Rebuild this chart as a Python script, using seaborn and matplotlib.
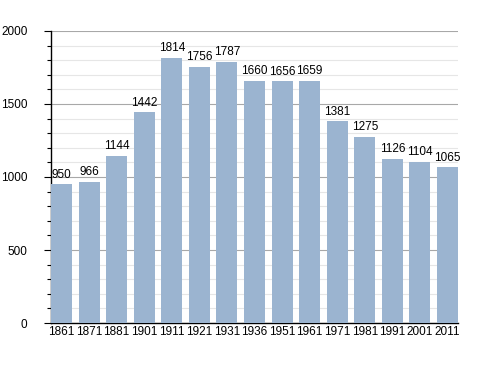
import matplotlib
matplotlib.use("Agg")
import matplotlib.pyplot as plt
import seaborn as sns
import pandas as pd
from matplotlib.ticker import MultipleLocator

years = ["1861", "1871", "1881", "1901", "1911", "1921", "1931", "1936",
         "1951", "1961", "1971", "1981", "1991", "2001", "2011"]
population = [950, 966, 1144, 1442, 1814, 1756, 1787, 1660,
              1656, 1659, 1381, 1275, 1126, 1104, 1065]

df = pd.DataFrame({"year": years, "pop": population})

sns.set_style("white")
plt.rcParams["font.family"] = ["Liberation Sans", "DejaVu Sans"]
plt.rcParams["text.color"] = "black"
plt.rcParams["xtick.color"] = "black"
plt.rcParams["ytick.color"] = "black"

fig = plt.figure(figsize=(4.88, 3.73), dpi=100)
ax = fig.add_axes([0.1045, 0.134, 0.834, 0.783])

bw = 0.76
sns.barplot(data=df, x="year", y="pop", color="#9bb4d0", saturation=1,
            width=bw, ax=ax, zorder=3, linewidth=0)

ax.set_ylim(0, 2000)
ax.set_xlim(-bw / 2, len(years) - 1 + bw / 2)
ax.yaxis.set_major_locator(MultipleLocator(500))
ax.yaxis.set_minor_locator(MultipleLocator(100))
ax.grid(axis="y", which="major", color="#a8a8a8", linewidth=0.8, zorder=0)
ax.grid(axis="y", which="minor", color="#e6e6e6", linewidth=0.8, zorder=0)
ax.set_axisbelow(True)

for s in ["top", "right"]:
    ax.spines[s].set_visible(False)
for s in ["left", "bottom"]:
    ax.spines[s].set_color("black")
    ax.spines[s].set_linewidth(1.0)

ax.tick_params(axis="y", which="major", length=5, width=0.8, labelsize=8.5, pad=12,
               direction="out", left=True, colors="black")
ax.tick_params(axis="y", which="minor", length=3, width=0.8, direction="out", left=True)
ax.tick_params(axis="x", length=0, labelsize=8.5, pad=2, colors="black")
ax.set_xlabel("")
ax.set_ylabel("")

for i, v in enumerate(population):
    ax.text(i, v + 25, str(v), ha="center", va="bottom", fontsize=8.5, color="black", zorder=5)

fig.savefig("out.png", dpi=100)
